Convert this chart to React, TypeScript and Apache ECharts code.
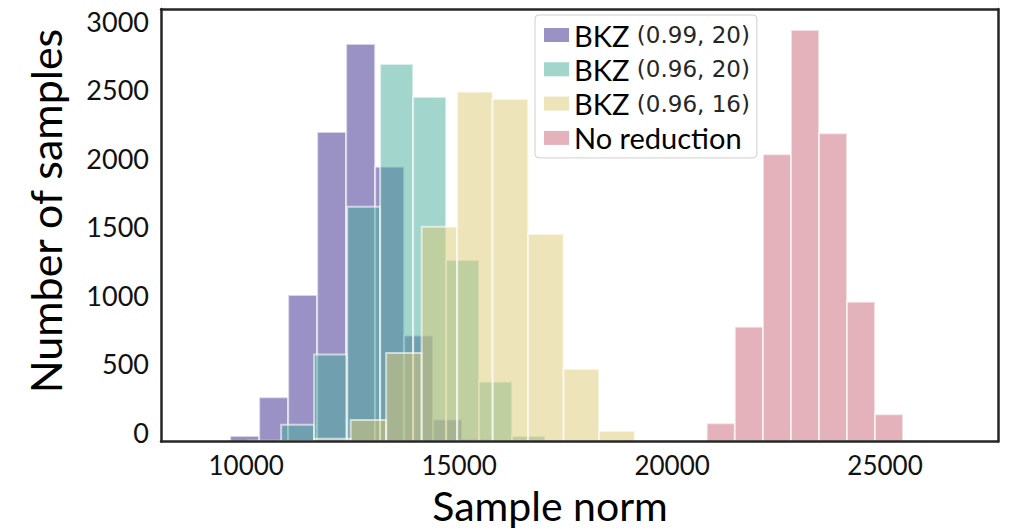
import React, { useEffect, useRef } from "react";
import * as echarts from "echarts";

// ---- data ----
const seriesNames = ["BKZ (0.99, 20)", "BKZ (0.96, 20)", "BKZ (0.96, 16)", "No reduction"];

const purpleEdges = [9624, 10305, 10986, 11667, 12347, 13028, 13709, 14390, 15070, 15751];
const purpleCounts = [40, 323, 1069, 2259, 2901, 2006, 773, 160, 16];

const tealEdges = [10047, 10821, 11596, 12371, 13145, 13920, 14695, 15469, 16244, 17019];
const tealCounts = [5, 122, 635, 1714, 2755, 2514, 1325, 437, 40];

const yellowEdges = [10786, 11620, 12453, 13286, 14120, 14953, 15786, 16620, 17453, 18286, 19120];
const yellowCounts = [3, 20, 157, 646, 1568, 2553, 2500, 1515, 529, 77];

const pinkEdges = [20814, 21474, 22134, 22793, 23451, 24108, 24765, 25422, 26080];
const pinkCounts = [133, 838, 2096, 3004, 2250, 1021, 198, 5];

const xTicks = [10000, 15000, 20000, 25000];
const yTicks = [0, 500, 1000, 1500, 2000, 2500, 3000];

const xTitle = "Sample norm";
const yTitle = "Number of samples";

const fills = [
  "rgba(53,37,137,0.5)",
  "rgba(69,171,153,0.5)",
  "rgba(219,201,115,0.5)",
  "rgba(201,101,119,0.5)",
];

const allEdges = [purpleEdges, tealEdges, yellowEdges, pinkEdges];
const allCounts = [purpleCounts, tealCounts, yellowCounts, pinkCounts];

function binsOf(edges: number[], counts: number[]) {
  return counts.map((c, i) => [edges[i], edges[i + 1], c]);
}

export default function App() {
  const ref = useRef<HTMLDivElement>(null);
  useEffect(() => {
    document.body.style.margin = "0";
    const chart = echarts.init(ref.current!, null, { renderer: "svg" });
    const axisLineStyle = { color: "#262626", width: 2.5 };
    const xMin = 8000;
    const xMax = 27652;
    const yMax = 3157;
    chart.setOption({
      animation: false,
      grid: { left: 161, right: 12, top: 9, bottom: 87.5, containLabel: false },
      xAxis: [
        {
          type: "value",
          min: xMin,
          max: xMax,
          interval: 1000,
          z: 10,
          axisLine: { show: true, onZero: false, lineStyle: axisLineStyle },
          axisTick: { show: false },
          splitLine: { show: false },
          axisLabel: {
            margin: 13,
            fontSize: 26,
            lineHeight: 20,
            fontFamily: "Lato",
            color: "#111",
            formatter: (v: number) => (xTicks.includes(v) ? String(v) : ""),
          },
        },
        {
          type: "value",
          position: "top",
          min: xMin,
          max: xMax,
          z: 10,
          axisLine: { show: true, onZero: false, lineStyle: axisLineStyle },
          axisTick: { show: false },
          splitLine: { show: false },
          axisLabel: { show: false },
        },
      ],
      yAxis: [
        {
          type: "value",
          min: 0,
          max: yMax,
          interval: 500,
          z: 10,
          axisLine: { show: true, onZero: false, lineStyle: axisLineStyle },
          axisTick: { show: false },
          splitLine: { show: false },
          axisLabel: {
            margin: 12,
            fontSize: 27,
            fontFamily: "Lato",
            color: "#111",
            verticalAlign: "bottom",
            lineHeight: 19,
            formatter: (v: number) => (yTicks.includes(v) ? String(v) : ""),
          },
        },
        {
          type: "value",
          position: "right",
          min: 0,
          max: yMax,
          z: 10,
          axisLine: { show: true, onZero: false, lineStyle: axisLineStyle },
          axisTick: { show: false },
          splitLine: { show: false },
          axisLabel: { show: false },
        },
      ],
      legend: {
        orient: "vertical",
        left: 535,
        top: 15,
        padding: [5, 7, 5, 9],
        itemGap: 4.3,
        itemWidth: 25,
        itemHeight: 14,
        icon: "rect",
        selectedMode: false,
        backgroundColor: "rgba(255,255,255,0.8)",
        borderColor: "#cfcfcf",
        borderWidth: 1,
        borderRadius: 4,
        itemStyle: { borderWidth: 0 },
        data: seriesNames,
        formatter: (name: string) =>
          name.startsWith("BKZ ") ? `{a|BKZ }{b|${name.slice(4)}}` : `{a|${name}}`,
        textStyle: {
          fontFamily: "Lato",
          fontSize: 29,
          color: "#000",
          lineHeight: 30,
          rich: {
            a: { fontFamily: "Lato", fontSize: 29, color: "#000", lineHeight: 30 },
            b: { fontFamily: "DejaVu Sans", fontSize: 23, color: "#262626", lineHeight: 30 },
          },
        },
      },
      graphic: [
        {
          type: "text",
          x: 45,
          y: 211,
          rotation: Math.PI / 2,
          style: {
            text: yTitle,
            fontFamily: "Lato",
            fontSize: 43,
            fill: "#000",
            align: "center",
            verticalAlign: "middle",
          },
        },
        {
          type: "text",
          x: 550,
          y: 505,
          style: {
            text: xTitle,
            fontFamily: "Lato",
            fontSize: 41,
            fill: "#000",
            align: "center",
            verticalAlign: "middle",
          },
        },
      ],
      series: seriesNames.map((name, i) => ({
        type: "custom",
        name,
        xAxisIndex: 0,
        yAxisIndex: 0,
        itemStyle: { color: fills[i] },
        encode: { x: [0, 1], y: 2 },
        data: binsOf(allEdges[i], allCounts[i]),
        renderItem: (params: any, api: any) => {
          const x0 = api.value(0);
          const x1 = api.value(1);
          const h = api.value(2);
          const p0 = api.coord([x0, h]);
          const p1 = api.coord([x1, 0]);
          return {
            type: "rect",
            shape: { x: p0[0], y: p0[1], width: p1[0] - p0[0], height: p1[1] - p0[1] },
            style: { fill: fills[i], stroke: "rgba(255,255,255,0.6)", lineWidth: 2 },
          };
        },
      })),
    });
    return () => chart.dispose();
  }, []);
  return <div ref={ref} style={{ width: 1010, height: 529 }} />;
}
